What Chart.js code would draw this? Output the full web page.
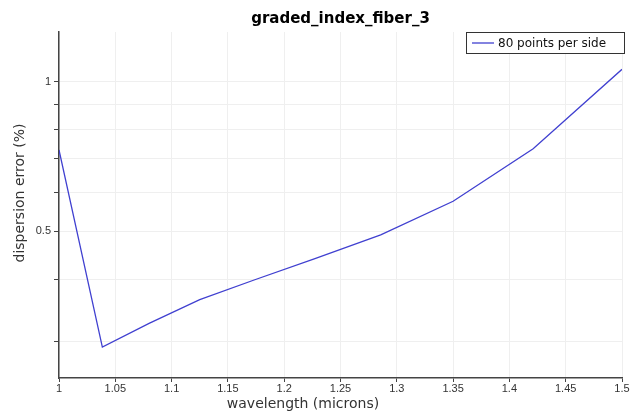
<!DOCTYPE html>
<html lang="en">
<head>
    <meta charset="UTF-8">
    <title>graded_index_fiber_3</title>
    <script src="https://cdn.jsdelivr.net/npm/chart.js"></script>
    <style>
        html, body {
            margin: 0;
            padding: 0;
            background: #ffffff;
        }
        #wrap {
            width: 638px;
            height: 415px;
        }
    </style>
</head>
<body>
    <div id="wrap"><canvas id="myChart" width="638" height="415"></canvas></div>

    <script>
        // Dispersion error vs wavelength, one run (80 points per side)
        const wavelength = [1, 1.0385, 1.08, 1.125, 1.1739, 1.2273, 1.2857, 1.35, 1.4211, 1.5];
        const dispersionError = [0.729, 0.293, 0.327, 0.365, 0.400, 0.441, 0.492, 0.575, 0.733, 1.058];

        const xTicks = [1, 1.05, 1.1, 1.15, 1.2, 1.25, 1.3, 1.35, 1.4, 1.45, 1.5];
        const yTicks = [0.3, 0.4, 0.5, 0.6, 0.7, 0.8, 0.9, 1];
        const yLabelled = [0.5, 1];

        const seriesLabel = '80 points per side';
        const chartTitle = 'graded_index_fiber_3';
        const xTitle = 'wavelength (microns)';
        const yTitle = 'dispersion error (%)';

        const lineColor = 'rgb(64, 64, 208)';

        // title, axis titles and the boxed legend drawn by hand
        const decorations = {
            id: 'decorations',
            afterDraw(chart) {
                const ctx = chart.ctx;
                const area = chart.chartArea;
                ctx.save();

                ctx.fillStyle = '#000';
                ctx.font = 'bold 15px "DejaVu Sans"';
                ctx.textAlign = 'center';
                ctx.textBaseline = 'middle';
                ctx.fillText(chartTitle, (area.left + area.right) / 2, 19);

                ctx.fillStyle = '#333';
                ctx.font = '14px "DejaVu Sans"';
                ctx.fillText(xTitle, 303, 404);

                ctx.translate(20, 193);
                ctx.rotate(-Math.PI / 2);
                ctx.fillText(yTitle, 0, 0);
                ctx.setTransform(1, 0, 0, 1, 0, 0);

                // legend
                const bx = 466, by = 32, bw = 158, bh = 21;
                ctx.fillStyle = '#fff';
                ctx.fillRect(bx, by, bw, bh);
                ctx.strokeStyle = '#333';
                ctx.lineWidth = 1;
                ctx.strokeRect(bx + 0.5, by + 0.5, bw, bh);
                ctx.strokeStyle = lineColor;
                ctx.lineWidth = 1.3;
                ctx.beginPath();
                ctx.moveTo(bx + 6, by + 11);
                ctx.lineTo(bx + 28, by + 11);
                ctx.stroke();
                ctx.fillStyle = '#111';
                ctx.font = '12px "DejaVu Sans"';
                ctx.textAlign = 'left';
                ctx.fillText(chart.data.datasets[0].label, bx + 32, by + 11.5);

                ctx.restore();
            }
        };

        const ctx = document.getElementById('myChart').getContext('2d');
        new Chart(ctx, {
            type: 'line',
            data: {
                datasets: [{
                    label: seriesLabel,
                    data: wavelength.map((w, i) => ({ x: w, y: dispersionError[i] })),
                    borderColor: lineColor,
                    borderWidth: 1.3,
                    pointRadius: 0,
                    tension: 0,
                    fill: false
                }]
            },
            options: {
                responsive: false,
                animation: false,
                layout: {
                    padding: { left: 0, right: 16, top: 32, bottom: 0 }
                },
                plugins: {
                    legend: { display: false },
                    title: { display: false },
                    tooltip: { enabled: false }
                },
                scales: {
                    x: {
                        type: 'linear',
                        min: 1,
                        max: 1.5,
                        afterBuildTicks: scale => {
                            scale.ticks = xTicks.map(v => ({ value: v }));
                        },
                        afterFit: scale => { scale.height = 37; },
                        ticks: {
                            autoSkip: false,
                            maxRotation: 0,
                            padding: 0,
                            color: '#333',
                            font: { family: 'Liberation Sans', size: 11 },
                            callback: v => String(+v.toFixed(2))
                        },
                        grid: {
                            color: '#efefef',
                            tickColor: '#444',
                            tickLength: 4
                        },
                        border: { color: '#444', width: 1.5 }
                    },
                    y: {
                        type: 'logarithmic',
                        min: 0.254,
                        max: 1.257,
                        afterBuildTicks: scale => {
                            scale.ticks = yTicks.map(v => ({ value: v }));
                        },
                        afterFit: scale => { scale.width = 59; },
                        ticks: {
                            autoSkip: false,
                            padding: 3,
                            color: '#333',
                            font: { family: 'Liberation Sans', size: 11 },
                            callback: v => yLabelled.includes(v) ? String(v) : ''
                        },
                        grid: {
                            color: '#efefef',
                            tickColor: '#444',
                            tickLength: 5
                        },
                        border: { color: '#444', width: 1.5 }
                    }
                }
            },
            plugins: [decorations]
        });
    </script>
</body>
</html>
